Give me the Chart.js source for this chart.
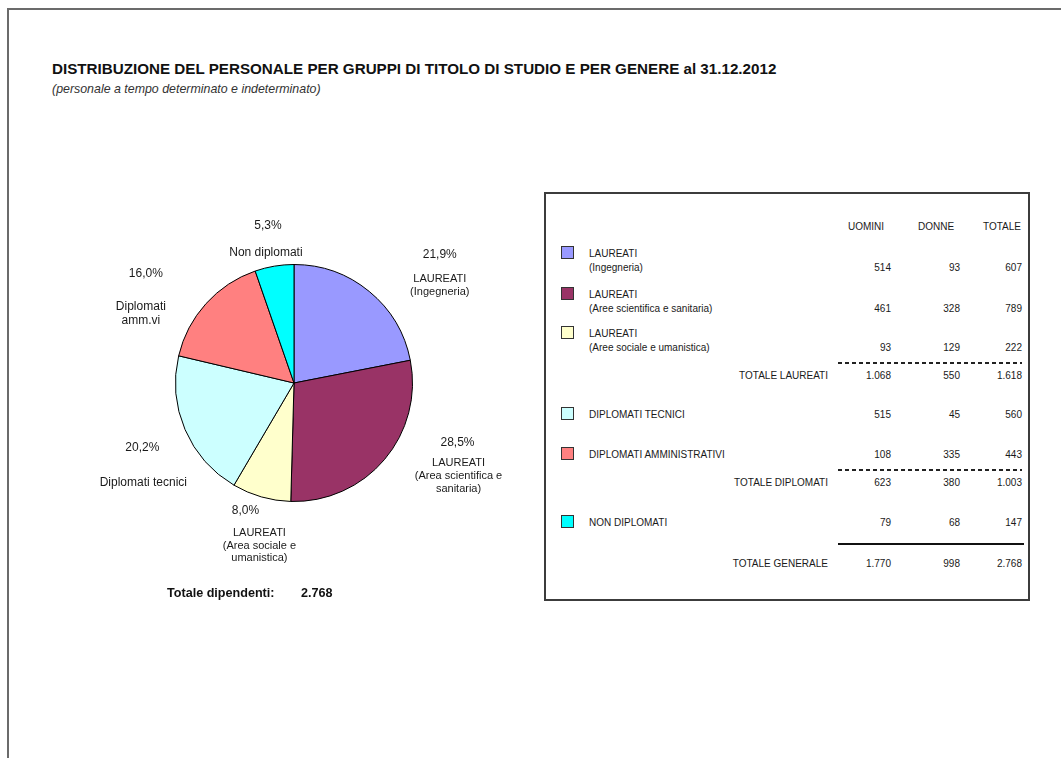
<!DOCTYPE html>
<html lang="it">
<head>
<meta charset="utf-8">
<title>Distribuzione del personale al 31.12.2012</title>
<script src="https://cdn.jsdelivr.net/npm/chart.js@4.4.0/dist/chart.umd.min.js"></script>
<style>
  body { margin: 0; background: #fff; font-family: "Liberation Sans", Arial, sans-serif; color: #1a1a1a; }
  #pagina { position: relative; width: 1061px; height: 758px; overflow: hidden; }
  #bordo { position: absolute; left: 7px; top: 8px; width: 1100px; height: 800px;
           border-left: 2px solid #6b6b6b; border-top: 2px solid #6b6b6b; }
  .t { position: absolute; white-space: nowrap; line-height: 14px; height: 14px; }
  #torta { position: absolute; left: 40px; top: 200px; }
  #tabella { position: absolute; left: 544px; top: 192px; width: 486px; height: 409px;
             box-sizing: border-box; border: 2px solid #3c3c3c; }
  .quadro { position: absolute; width: 13px; height: 13px; box-sizing: border-box; border: 1.5px solid #333; }
  .tratteggio { position: absolute; height: 1.5px;
                background: repeating-linear-gradient(to right, #222 0 4px, transparent 4px 7px); }
  .linea { position: absolute; height: 2px; background: #111; }
</style>
</head>
<body>
<div id="pagina">
  <div id="bordo"></div>
  <div id="tabella"></div>
  <canvas id="torta" width="500" height="420"></canvas>
</div>
<script>
// dati
var categorie = [
  ['LAUREATI', '(Ingegneria)'],
  ['LAUREATI', '(Aree scientifica e sanitaria)'],
  ['LAUREATI', '(Aree sociale e umanistica)'],
  ['DIPLOMATI TECNICI'],
  ['DIPLOMATI AMMINISTRATIVI'],
  ['NON DIPLOMATI']
];
var etichetteTorta = [
  ['LAUREATI', '(Ingegneria)'],
  ['LAUREATI', '(Area scientifica e', 'sanitaria)'],
  ['LAUREATI', '(Area sociale e', 'umanistica)'],
  ['Diplomati tecnici'],
  ['Diplomati', 'amm.vi'],
  ['Non diplomati']
];
var uomini = [514, 461, 93, 515, 108, 79];
var donne = [93, 328, 129, 45, 335, 68];
var colori = ['#9999FF', '#993366', '#FFFFCC', '#CCFFFF', '#FF8080', '#00FFFF'];
var intestazioni = ['UOMINI', 'DONNE', 'TOTALE'];
var gruppi = [
  { nome: 'TOTALE LAUREATI', righe: [0, 1, 2] },
  { nome: 'TOTALE DIPLOMATI', righe: [3, 4] }
];
var titolo = 'DISTRIBUZIONE DEL PERSONALE PER GRUPPI DI TITOLO DI STUDIO E PER GENERE al 31.12.2012';
var sottotitolo = '(personale a tempo determinato e indeterminato)';

var totali = uomini.map(function(u, i) { return u + donne[i]; });

// numeri all'italiana: 2.768
function fmt(n) {
  return String(n).replace(/\B(?=(\d{3})+(?!\d))/g, '.');
}
function somma(arr, righe) {
  return righe.reduce(function(s, i) { return s + arr[i]; }, 0);
}

var pagina = document.getElementById('pagina');

// testo posizionato: x di riferimento, centro verticale cy
function testo(str, x, cy, stile) {
  stile = stile || {};
  var d = document.createElement('div');
  d.className = 't';
  d.textContent = str;
  d.style.left = x + 'px';
  d.style.top = (cy - 7) + 'px';
  d.style.fontSize = (stile.size || 10) + 'px';
  if (stile.bold) d.style.fontWeight = 'bold';
  if (stile.italic) d.style.fontStyle = 'italic';
  if (stile.color) d.style.color = stile.color;
  if (stile.align === 'right') d.style.transform = 'translateX(-100%)';
  if (stile.align === 'center') d.style.transform = 'translateX(-50%)';
  pagina.appendChild(d);
  return d;
}

// titolo e sottotitolo
testo(titolo, 52, 69, { size: 15.2, bold: true, color: '#111' });
testo(sottotitolo, 52, 89, { size: 12.4, italic: true, color: '#333' });

// totale sotto la torta
var totaleGenerale = totali.reduce(function(a, b) { return a + b; }, 0);
testo('Totale dipendenti:', 167, 593, { size: 12.6, bold: true, color: '#111' });
testo(fmt(totaleGenerale), 301, 593, { size: 12.6, bold: true, color: '#111' });

// ---- tabella a destra ----
var colX = [891, 960, 1022];      // bordo destro delle colonne
var colTitX = [866, 936, 1002];   // centro intestazioni
var rigaY = [268, 309, 348, 415, 455, 523];
var gruppoY = [376, 483];
var testoX = 589, etichettaTotX = 828;

intestazioni.forEach(function(h, j) {
  testo(h, colTitX[j], 227, { align: 'center' });
});

categorie.forEach(function(righe, i) {
  var y0 = rigaY[i] - (righe.length - 1) * 14;
  var q = document.createElement('div');
  q.className = 'quadro';
  q.style.left = '561px';
  q.style.top = (y0 - 8) + 'px';
  q.style.background = colori[i];
  pagina.appendChild(q);
  righe.forEach(function(r, k) {
    testo(r, testoX, y0 + k * 14);
  });
  [uomini[i], donne[i], totali[i]].forEach(function(v, j) {
    testo(fmt(v), colX[j], rigaY[i], { align: 'right' });
  });
});

function lineaTot(cls, y, x1, x2) {
  var l = document.createElement('div');
  l.className = cls;
  l.style.left = x1 + 'px';
  l.style.top = y + 'px';
  l.style.width = (x2 - x1) + 'px';
  pagina.appendChild(l);
}

gruppi.forEach(function(g, n) {
  lineaTot('tratteggio', gruppoY[n] - 14, 838, 1022);
  testo(g.nome, etichettaTotX, gruppoY[n], { align: 'right' });
  [somma(uomini, g.righe), somma(donne, g.righe), somma(totali, g.righe)].forEach(function(v, j) {
    testo(fmt(v), colX[j], gruppoY[n], { align: 'right' });
  });
});

var tutte = totali.map(function(_, i) { return i; });
lineaTot('linea', 543, 838, 1024);
testo('TOTALE GENERALE', etichettaTotX, 564, { align: 'right' });
[somma(uomini, tutte), somma(donne, tutte), totaleGenerale].forEach(function(v, j) {
  testo(fmt(v), colX[j], 564, { align: 'right' });
});

// ---- torta ----
// posizione delle percentuali rispetto al centro, in raggi
var posPerc = [[1.23, -1.08], [1.38, 0.50], [-0.41, 1.08], [-1.28, 0.55], [-1.25, -0.92], [-0.22, -1.33]];
// scarto della prima riga di etichetta rispetto alla percentuale (px) e interlinea
var scartoNome = [[0, 24, 13], [1, 21, 13], [14, 22, 12.5], [1, 35, 14], [-5, 33, 14], [-2, 27, 14]];
var dimNome = [11, 11, 11, 12, 12, 12];

var etichettePlugin = {
  id: 'etichette',
  afterDatasetsDraw: function(chart) {
    var ctx = chart.ctx;
    var archi = chart.getDatasetMeta(0).data;
    var tot = totali.reduce(function(a, b) { return a + b; }, 0);
    ctx.save();
    ctx.textAlign = 'center';
    ctx.textBaseline = 'middle';
    ctx.fillStyle = '#1a1a1a';
    archi.forEach(function(arco, i) {
      var R = arco.outerRadius;
      var px = arco.x + posPerc[i][0] * R;
      var py = arco.y + posPerc[i][1] * R;
      var perc = (totali[i] / tot * 100).toFixed(1).replace('.', ',') + '%';
      ctx.font = '12px "Liberation Sans", Arial, sans-serif';
      ctx.fillText(perc, px, py);
      ctx.font = dimNome[i] + 'px "Liberation Sans", Arial, sans-serif';
      etichetteTorta[i].forEach(function(r, k) {
        ctx.fillText(r, px + scartoNome[i][0], py + scartoNome[i][1] + k * scartoNome[i][2]);
      });
    });
    ctx.restore();
  }
};

var ctx = document.getElementById('torta').getContext('2d');
var grafico = new Chart(ctx, {
  type: 'pie',
  data: {
    labels: etichetteTorta.map(function(r) { return r.join(' '); }),
    datasets: [{
      data: totali,
      backgroundColor: colori,
      borderColor: '#000',
      borderWidth: 1,
      hoverOffset: 0
    }]
  },
  options: {
    responsive: false,
    animation: false,
    events: [],
    layout: { padding: { left: 135, right: 127, top: 64, bottom: 118 } },
    plugins: {
      legend: { display: false },
      tooltip: { enabled: false }
    }
  },
  plugins: [etichettePlugin]
});
</script>
</body>
</html>
